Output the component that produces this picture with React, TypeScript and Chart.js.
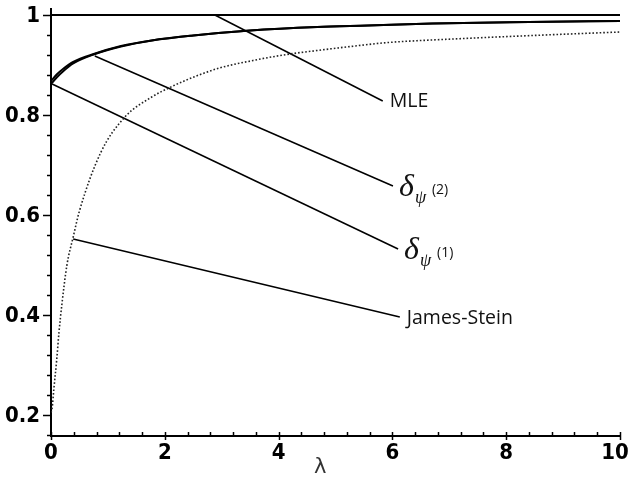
import React, { useEffect, useRef } from "react";
import { Chart, registerables } from "chart.js";

Chart.register(...registerables);

// ---- data ----
const lambdaSolid = [0, 0.1, 0.2, 0.39, 0.75, 1.23, 1.77, 2.5, 3.5, 4.68, 5.57, 6.7, 8.4, 10];
const deltaPsi1 = [0.862, 0.875, 0.886, 0.903, 0.921, 0.937, 0.949, 0.959, 0.969, 0.976, 0.979, 0.983, 0.986, 0.988];
const deltaPsi2 = [0.868, 0.881, 0.891, 0.906, 0.922, 0.938, 0.949, 0.959, 0.969, 0.976, 0.979, 0.983, 0.986, 0.988];

const lambdaJS = [0, 0.02, 0.05, 0.1, 0.14, 0.19, 0.28, 0.39, 0.5, 0.875, 1.29, 1.77, 2.125, 2.36, 2.6, 2.96, 3.55, 4.14, 4.75, 5.34, 5.93, 7.07, 8.25, 10];
const jamesStein = [0.205, 0.214, 0.252, 0.31, 0.365, 0.42, 0.5, 0.556, 0.608, 0.725, 0.795, 0.836, 0.857, 0.869, 0.88, 0.894, 0.909, 0.921, 0.93, 0.938, 0.945, 0.952, 0.958, 0.966];

const lambdaMLE = [0, 10];
const mle = [1, 1];

// leader lines: [start λ, start value, end λ, end value]
const leaderMLE = [2.88, 1.0, 5.83, 0.828];
const leaderPsi2 = [0.77, 0.918, 6.01, 0.658];
const leaderPsi1 = [0.02, 0.862, 6.1, 0.532];
const leaderJS = [0.39, 0.552, 6.13, 0.396];

const xTickLabels = [0, 2, 4, 6, 8, 10];
const yTickLabels = [0.2, 0.4, 0.6, 0.8, 1];
const xAxisTitle = "λ";

const toPts = (xs: number[], ys: number[]) => xs.map((x, i) => ({ x, y: ys[i] }));
const leaderPts = (l: number[]) => [
  { x: l[0], y: l[1] },
  { x: l[2], y: l[3] },
];

const tickFont = "bold 22px 'DejaVu Sans Condensed', 'Liberation Sans Narrow', sans-serif";

const decorPlugin = {
  id: "decor",
  afterDraw(chart: any) {
    const ctx = chart.ctx as CanvasRenderingContext2D;
    const xs = chart.scales.x;
    const ys = chart.scales.y;
    const area = chart.chartArea;
    ctx.save();
    ctx.strokeStyle = "#000";
    ctx.lineWidth = 1.5;
    // y ticks (outward, left)
    for (let v = 0.16; v <= 1.0001; v += 0.04) {
      const py = Math.round(ys.getPixelForValue(v)) + 0.5;
      const major = Math.abs(v / 0.2 - Math.round(v / 0.2)) < 1e-6;
      ctx.beginPath();
      ctx.moveTo(area.left, py);
      ctx.lineTo(area.left - (major ? 8 : 4), py);
      ctx.stroke();
    }
    // x ticks
    for (let v = 0; v <= 10.0001; v += 0.4) {
      const px = Math.round(xs.getPixelForValue(v)) + 0.5;
      ctx.beginPath();
      ctx.moveTo(px, area.bottom);
      ctx.lineTo(px, area.bottom - 4);
      ctx.stroke();
    }
    for (const v of xTickLabels) {
      const px = Math.round(xs.getPixelForValue(v)) + 0.5;
      ctx.beginPath();
      ctx.moveTo(px, area.bottom);
      ctx.lineTo(px, area.bottom + 4);
      ctx.stroke();
    }

    // tick labels
    ctx.fillStyle = "#000";
    ctx.font = tickFont;
    ctx.textAlign = "right";
    ctx.textBaseline = "middle";
    for (const v of yTickLabels) {
      ctx.fillText(String(v), area.left - 11, ys.getPixelForValue(v) + 1);
    }
    ctx.textAlign = "center";
    ctx.textBaseline = "top";
    for (const v of xTickLabels) {
      ctx.fillText(String(v), xs.getPixelForValue(v) - (v === 10 ? 5 : 0), area.bottom + 6);
    }

    // labels
    ctx.fillStyle = "#111";
    const end = (l: number[]) => [xs.getPixelForValue(l[2]), ys.getPixelForValue(l[3])];
    ctx.textBaseline = "middle";
    ctx.textAlign = "left";
    ctx.font = "19.5px 'Open Sans', 'Noto Sans', sans-serif";
    let [ex, ey] = end(leaderMLE);
    ctx.fillText("MLE", ex + 7, ey);
    [ex, ey] = end(leaderJS);
    ctx.fillText("James-Stein", ex + 7, ey + 1);

    const drawDelta = (l: number[], sup: string) => {
      const [x, y] = end(l);
      ctx.textBaseline = "alphabetic";
      ctx.font = "italic 32px 'Liberation Serif', 'DejaVu Serif', serif";
      ctx.fillText("δ", x + 6, y + 10);
      ctx.font = "italic 18px 'Liberation Serif', 'DejaVu Serif', serif";
      ctx.fillText("ψ", x + 22, y + 17);
      ctx.font = "14px 'Open Sans', 'Noto Sans', sans-serif";
      ctx.fillText(sup, x + 39, y + 8);
    };
    drawDelta(leaderPsi2, "(2)");
    drawDelta(leaderPsi1, "(1)");

    // axis title
    ctx.font = "21px 'DejaVu Sans', sans-serif";
    ctx.textAlign = "center";
    ctx.textBaseline = "middle";
    ctx.fillStyle = "#333";
    ctx.fillText(xAxisTitle, area.left + (area.right - area.left) * 0.473, 468);
    ctx.restore();
  },
};

export default function App() {
  const ref = useRef<HTMLCanvasElement>(null);
  useEffect(() => {
    const solid = { borderColor: "#000", borderWidth: 2, pointRadius: 0, fill: false, tension: 0.3 };
    const leader = { borderColor: "#000", borderWidth: 1.5, pointRadius: 0, fill: false, tension: 0 };
    const chart = new Chart(ref.current as HTMLCanvasElement, {
      type: "line",
      data: {
        datasets: [
          { ...solid, label: "MLE", data: toPts(lambdaMLE, mle), tension: 0 },
          { ...solid, label: "δψ(2)", data: toPts(lambdaSolid, deltaPsi2), cubicInterpolationMode: "monotone" },
          { ...solid, label: "δψ(1)", data: toPts(lambdaSolid, deltaPsi1), cubicInterpolationMode: "monotone" },
          {
            label: "James-Stein",
            data: toPts(lambdaJS, jamesStein),
            borderColor: "#222",
            borderWidth: 1.6,
            borderDash: [1.6, 2],
            pointRadius: 0,
            fill: false,
            cubicInterpolationMode: "monotone",
          },
          { ...leader, label: "l1", data: leaderPts(leaderMLE) },
          { ...leader, label: "l2", data: leaderPts(leaderPsi2) },
          { ...leader, label: "l3", data: leaderPts(leaderPsi1) },
          { ...leader, label: "l4", data: leaderPts(leaderJS) },
        ] as any,
      },
      options: {
        animation: false,
        responsive: false,
        devicePixelRatio: 1,
        layout: { padding: { top: 9, right: 10, left: 0, bottom: 0 } },
        plugins: { legend: { display: false }, tooltip: { enabled: false } },
        scales: {
          x: {
            type: "linear",
            min: 0,
            max: 10,
            grid: { display: false, drawTicks: false },
            border: { display: true, color: "#000", width: 2 },
            afterFit: (s: any) => {
              s.height = 45;
            },
            ticks: { display: false },
          },
          y: {
            type: "linear",
            min: 0.158,
            max: 1.012,
            grid: { display: false, drawTicks: false },
            border: { display: true, color: "#000", width: 2 },
            afterFit: (s: any) => {
              s.width = 51;
            },
            ticks: { display: false },
          },
        },
      } as any,
      plugins: [decorPlugin],
    });
    return () => chart.destroy();
  }, []);
  return (
    <div style={{ position: "fixed", left: 0, top: 0, width: 630, height: 481, background: "#fff" }}>
      <canvas ref={ref} width={630} height={481} style={{ display: "block", width: 630, height: 481 }} />
    </div>
  );
}
